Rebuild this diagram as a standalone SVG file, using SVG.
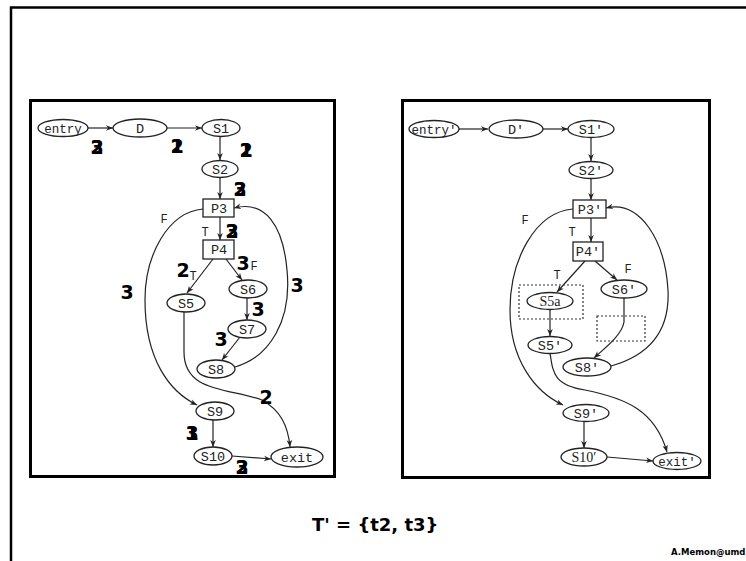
<svg xmlns="http://www.w3.org/2000/svg" width="746" height="561" viewBox="0 0 746 561">
<defs>
<marker id="ah" viewBox="0 0 10 10" refX="10" refY="5" markerWidth="7" markerHeight="7" orient="auto" markerUnits="userSpaceOnUse">
<path d="M0,1 L10,5 L0,9 L3,5 Z" fill="#222"/>
</marker>
<style>
.n{fill:#fff;stroke:#222;stroke-width:1.3}
.t{font-family:"Liberation Mono",monospace;font-size:13.5px;fill:#222;text-anchor:middle}
.tw{font-family:"Liberation Mono",monospace;font-size:12.5px;fill:#222;text-anchor:middle}
.ts{font-family:"Liberation Serif",serif;font-size:14px;fill:#222;text-anchor:middle}
.lb{font-family:"Liberation Mono",monospace;font-size:12px;fill:#222;text-anchor:middle}
.e{fill:none;stroke:#222;stroke-width:1.2;marker-end:url(#ah)}
.num{font-family:"DejaVu Sans",sans-serif;font-weight:bold;font-size:19px;fill:#000;text-anchor:middle}
.frame{fill:none;stroke:#000;stroke-width:3}
.dot{fill:none;stroke:#333;stroke-width:1.2;stroke-dasharray:2,2}
</style>
</defs>
<rect width="746" height="561" fill="#fff"/>
<path d="M11,561 L11,7.5 L746,7.5" fill="none" stroke="#000" stroke-width="2.5"/>
<rect class="frame" x="30.5" y="100.5" width="304" height="376"/>
<rect class="frame" x="402.5" y="100.5" width="307" height="377"/>

<g id="connectors">
<path class="e" d="M88,128 L113,128"/>
<path class="e" d="M167,128 L202,128"/>
<path class="e" d="M220,137 L220,160"/>
<path class="e" d="M220,178 L220,199"/>
<path class="e" d="M220,217 L220,240"/>
<path class="e" d="M213,259 L187,293"/>
<path class="e" d="M226,259 L242,280"/>
<path class="e" d="M247,298 L247,320"/>
<path class="e" d="M240,337 L222,360"/>
<path class="e" d="M235,367 C270,357 292,320 287,270 C283,225 265,200 234,208"/>
<path class="e" d="M203,209 C168,212 145,255 145,300 C145,360 170,392 197,405"/>
<path class="e" d="M184,312 L184,352 C184,393 230,388 262,400 C280,410 288,425 290,447"/>
<path class="e" d="M213,420 L213,447"/>
<path class="e" d="M232,456 L271,459"/>

<path class="e" d="M458,129 L488,129"/>
<path class="e" d="M543,129 L568,129"/>
<path class="e" d="M591,137 L591,161"/>
<path class="e" d="M591,179 L591,200"/>
<path class="e" d="M591,218 L591,242"/>
<path class="e" d="M585,261 L557,292"/>
<path class="e" d="M595,261 L617,280"/>
<path class="e" d="M550,309 L550,336"/>
<path class="e" d="M624,298 L624,322 C622,335 605,348 594,358"/>
<path class="e" d="M611,366 C650,355 670,330 668,290 C665,240 640,200 606,208"/>
<path class="e" d="M573,209 C535,212 510,260 510,310 C510,360 535,392 563,405"/>
<path class="e" d="M550,353 C553,372 553,385 585,390 C625,398 655,410 667,452"/>
<path class="e" d="M584,422 L584,448"/>
<path class="e" d="M607,457 L653,461"/>
</g>

<g id="entry"><ellipse class="n" cx="63" cy="128" rx="25" ry="8.5"/><text class="tw" x="63" y="132.5">entry</text></g>
<g id="D"><ellipse class="n" cx="140" cy="128" rx="27" ry="9"/><text class="t" x="140" y="133">D</text></g>
<g id="S1"><ellipse class="n" cx="221" cy="128" rx="19" ry="8.5"/><text class="t" x="221" y="133">S1</text></g>
<g id="S2"><ellipse class="n" cx="220" cy="169" rx="18" ry="8.5"/><text class="t" x="220" y="174">S2</text></g>
<g id="P3"><rect class="n" x="203" y="199" width="31" height="18"/><text class="t" x="219" y="213">P3</text></g>
<g id="P4"><rect class="n" x="203" y="240" width="31" height="19"/><text class="t" x="219" y="254">P4</text></g>
<g id="S5"><ellipse class="n" cx="186" cy="303" rx="19" ry="9"/><text class="t" x="186" y="308">S5</text></g>
<g id="S6"><ellipse class="n" cx="248" cy="289" rx="19" ry="9"/><text class="t" x="248" y="294">S6</text></g>
<g id="S7"><ellipse class="n" cx="247" cy="329" rx="19" ry="9"/><text class="t" x="247" y="334">S7</text></g>
<g id="S8"><ellipse class="n" cx="216" cy="369" rx="19" ry="9"/><text class="t" x="216" y="374">S8</text></g>
<g id="S9"><ellipse class="n" cx="215" cy="411" rx="19" ry="9"/><text class="t" x="215" y="416">S9</text></g>
<g id="S10"><ellipse class="n" cx="213" cy="456" rx="19" ry="9"/><text class="t" x="213" y="461">S10</text></g>
<g id="exit"><ellipse class="n" cx="297" cy="457" rx="26" ry="10"/><text class="t" x="297" y="462">exit</text></g>

<g id="labels-left">
<text class="lb" x="164" y="223">F</text>
<text class="lb" x="205" y="236">T</text>
<text class="lb" x="193" y="280">T</text>
<text class="lb" x="254" y="270">F</text>
</g>

<g id="counts">
<text class="num" x="97" y="154">2</text><text class="num" x="97" y="154">3</text>
<text class="num" x="177" y="153">1</text><text class="num" x="177" y="153">2</text>
<text class="num" x="246" y="157">2</text><text class="num" x="246" y="157">1</text>
<text class="num" x="240" y="196">3</text><text class="num" x="240" y="196">2</text>
<text class="num" x="232" y="238">2</text><text class="num" x="232" y="238">3</text>
<text class="num" x="183" y="277">2</text>
<text class="num" x="243" y="270">3</text>
<text class="num" x="127" y="299">3</text>
<text class="num" x="297" y="292">3</text>
<text class="num" x="258" y="316">3</text>
<text class="num" x="221" y="346">3</text>
<text class="num" x="266" y="404">2</text>
<text class="num" x="192" y="440">1</text><text class="num" x="192" y="440">3</text>
<text class="num" x="242" y="474">2</text><text class="num" x="242" y="474">3</text>
</g>

<g id="entry2"><ellipse class="n" cx="434" cy="129" rx="25" ry="8.5"/><text class="tw" x="434" y="133.5">entry′</text></g>
<g id="D2"><ellipse class="n" cx="516" cy="129" rx="27" ry="9"/><text class="t" x="516" y="134">D′</text></g>
<g id="S1b"><ellipse class="n" cx="591" cy="129" rx="23" ry="8.5"/><text class="t" x="591" y="134">S1′</text></g>
<g id="S2b"><ellipse class="n" cx="591" cy="170" rx="22" ry="8.5"/><text class="t" x="591" y="175">S2′</text></g>
<g id="P3b"><rect class="n" x="573" y="200" width="33" height="18"/><text class="t" x="590" y="214">P3′</text></g>
<g id="P4b"><rect class="n" x="573" y="242" width="30" height="19"/><text class="t" x="588" y="256">P4′</text></g>
<g id="S5a-box"><rect class="dot" x="519" y="285" width="64" height="34"/></g>
<g id="S5a"><ellipse class="n" cx="550" cy="301" rx="23" ry="8.5"/><text class="ts" x="550" y="306">S5a</text></g>
<g id="S6b"><ellipse class="n" cx="624" cy="289" rx="23" ry="9"/><text class="t" x="624" y="294">S6′</text></g>
<g id="empty-box"><rect class="dot" x="597" y="316" width="48" height="25"/></g>
<g id="S5b"><ellipse class="n" cx="550" cy="345" rx="22" ry="8.5"/><text class="t" x="550" y="350">S5′</text></g>
<g id="S8b"><ellipse class="n" cx="587" cy="367" rx="24" ry="9"/><text class="t" x="587" y="372">S8′</text></g>
<g id="S9b"><ellipse class="n" cx="586" cy="413" rx="23" ry="8.5"/><text class="t" x="586" y="418">S9′</text></g>
<g id="S10b"><ellipse class="n" cx="584" cy="457" rx="23" ry="9"/><text class="ts" x="584" y="462">S10′</text></g>
<g id="exit2"><ellipse class="n" cx="677" cy="461" rx="24" ry="8.5"/><text class="tw" x="677" y="465.5">exit′</text></g>

<g id="labels-right">
<text class="lb" x="525" y="224">F</text>
<text class="lb" x="572" y="236">T</text>
<text class="lb" x="557" y="279">T</text>
<text class="lb" x="628" y="273">F</text>
</g>

<text x="312" y="531" font-family="DejaVu Sans, sans-serif" font-weight="bold" font-size="18" fill="#000">T' = {t2, t3}</text>
<text x="671" y="555" font-family="DejaVu Sans, sans-serif" font-weight="bold" font-size="8.5" fill="#000">A.Memon@umd</text>
</svg>
